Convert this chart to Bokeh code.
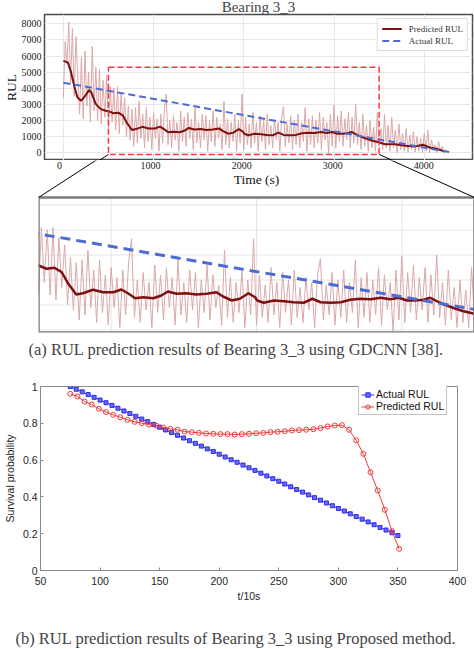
from bokeh.plotting import figure
from bokeh.layouts import column
from bokeh.models import Range1d, FixedTicker, Legend, LegendItem, LinearAxis
from bokeh.embed import file_html
from bokeh.resources import INLINE

# ---------------- panel (a) data ----------------
TIME_TICKS = [0, 1000, 2000, 3000, 4000]
RUL_TICKS = [0, 1000, 2000, 3000, 4000, 5000, 6000, 7000, 8000]

NOISE_T = list(range(0, 4260, 20))
NOISE_RUL = [
    3400, 6900, 5500, 8100, 4300, 7700, 3500, 7200, 4700, 2400,
    5900, 2100, 6300, 2900, 5000, 1900, 6600, 2600, 5300, 2000,
    5200, 1800, 4500, 2200, 4800, 1500, 4100, 1900, 4000, 1400,
    4100, 1200, 3700, 1700, 3400, 1000, 2900, 800, 2700, 400,
    2800, 600, 3200, 900, 2400, 300, 2800, 700, 2200, 200,
    2500, 900, 2100, 100, 2400, 600, 2700, 3650, 500, 2000,
    300, 2300, 800, 1900, 100, 2600, 700, 2200, 400, 2500,
    900, 2100, 200, 2800, 600, 1900, 300, 2400, 800, 2300,
    100, 2000, 700, 2600, 400, 2200, 900, 1800, 200, 3200,
    500, 2100, 300, 1900, 700, 2400, 100, 2000, 600, 3650,
    200, 2200, 500, 1800, 300, 2500, 600, 1900, 100, 2300,
    700, 2000, 200, 2400, 500, 1700, 300, 2100, 800, 1900,
    100, 2200, 2850, 400, 1800, 600, 2300, 200, 2000, 500,
    2400, 300, 1900, 700, 2800, 100, 2100, 500, 2300, 300,
    2000, 600, 2500, 200, 2200, 800, 1900, -50, 2400, 400,
    2950, 300, 2300, 700, 2600, 400, 2100, 800, 2500, 300,
    2200, 600, 3000, 500, 1900, 200, 2400, 400, 1700, 100,
    2000, 300, 1600, 100, 2500, 400, 1500, 200, 2400, 300,
    1700, 100, 2200, 300, 1400, 0, 1800, 200, 1200, 100,
    1500, 0, 1100, 200, 1300, 50, 1000, 100, 900, 0,
    1200, 100, 1400, 0, 800, 200, 500, 0, 700, 100,
    400, 0, 200,
]

SMOOTH_T = [0, 50, 85, 120, 155, 195, 230, 285, 310, 360,
            415, 470, 500, 555, 610, 660, 705, 760, 805, 875,
            945, 1015, 1070, 1115, 1165, 1220, 1290, 1345, 1390, 1450,
            1520, 1585, 1655, 1725, 1770, 1830, 1885, 1945, 1990, 2005,
            2050, 2120, 2190, 2255, 2325, 2385, 2440, 2510, 2580, 2645,
            2715, 2785, 2855, 2920, 2980, 3035, 3095, 3150, 3195, 3255,
            3310, 3370, 3425, 3485, 3565, 3675, 3785, 3895, 3985, 4060,
            4150, 4225]
SMOOTH_RUL = [5700, 5610, 5000, 4160, 3440, 3230, 3440, 3890, 3750, 3020,
              2710, 2610, 2580, 2450, 2490, 2310, 1850, 1420, 1470, 1610,
              1510, 1510, 1620, 1470, 1270, 1310, 1270, 1380, 1540, 1450,
              1470, 1420, 1450, 1510, 1340, 1180, 1250, 1470, 1310, 1180,
              1090, 1180, 1150, 1110, 1090, 1250, 1110, 1090, 1110, 1210,
              1250, 1230, 1290, 1230, 1290, 1180, 1180, 1210, 1290, 1110,
              980, 850, 750, 670, 530, 530, 430, 390, 500, 330,
              230, 80]

ACTUAL_T = [0, 4320]
ACTUAL_RUL = [4350, 0]

ZOOM_T = [500, 3500]
ZOOM_RUL = [-100, 5300]

CAPTION_A = "(a) RUL prediction results of Bearing 3_3 using GDCNN [38]."
CAPTION_B = "(b) RUL prediction results of Bearing 3_3 using Proposed method."

# ---------------- panel (b) data ----------------
B_X_TICKS = [50, 100, 150, 200, 250, 300, 350, 400]
B_Y_TICKS = [0, 0.2, 0.4, 0.6, 0.8, 1.0]
B_Y_LABELS = ["0", "0.2", "0.4", "0.6", "0.8", "1"]

ACT_B_T = list(range(75, 351, 5))
ACT_B_P = [1.000, 0.985, 0.971, 0.956, 0.941, 0.926, 0.912, 0.897, 0.882, 0.867,
           0.853, 0.838, 0.823, 0.809, 0.794, 0.779, 0.764, 0.750, 0.735, 0.720,
           0.705, 0.691, 0.676, 0.661, 0.647, 0.632, 0.617, 0.602, 0.588, 0.573,
           0.558, 0.544, 0.529, 0.514, 0.499, 0.485, 0.470, 0.455, 0.440, 0.426,
           0.411, 0.396, 0.382, 0.367, 0.352, 0.337, 0.323, 0.308, 0.293, 0.279,
           0.264, 0.249, 0.234, 0.220, 0.205, 0.190]

PRED_B_T = list(range(75, 352, 6))
PRED_B_P = [0.960, 0.946, 0.918, 0.902, 0.879, 0.861, 0.846, 0.833, 0.819, 0.808,
            0.801, 0.793, 0.788, 0.777, 0.770, 0.765, 0.755, 0.752, 0.748, 0.745,
            0.743, 0.741, 0.741, 0.739, 0.741, 0.743, 0.746, 0.748, 0.752, 0.754,
            0.757, 0.761, 0.763, 0.765, 0.768, 0.774, 0.783, 0.788, 0.790, 0.765,
            0.707, 0.634, 0.534, 0.435, 0.330, 0.214, 0.118]

SERIF = "Liberation Serif"
SANS = "Liberation Sans"
NOISE_COL = "#dba8a8"
DARK_RED = "#7d1010"
BLUE_D = "#4d6bd2"
BOX_RED = "#ff3343"

# ---------------- layout geometry (pixels) ----------------
W = 474
A_H, A_L, A_R, A_T = 160, 40, 2, 14          # main plot of (a); its frame ends at its bottom
I_H, I_L, I_R, I_B = 174, 38, 0, 2           # inset figure (its top strip holds the time axis)
GAP = 37
XR_A = (-209, 4535)
YR_A = (-478, 8577)

A_FX0, A_FX1, A_FY0, A_FY1 = A_L, W - A_R, A_T, A_H
I_FX0, I_FX1, I_FY0, I_FY1 = I_L, W - I_R, A_H, A_H + I_H - I_B
I_XR = (ZOOM_T[0], ZOOM_T[1])
I_YR = (ZOOM_RUL[0],
        ZOOM_RUL[0] + (ZOOM_RUL[1] - ZOOM_RUL[0]) * (I_FY1 - I_FY0) / (I_FY1 - I_FY0 - GAP))


def main_to_px(t, v):
    gx = A_FX0 + (t - XR_A[0]) / (XR_A[1] - XR_A[0]) * (A_FX1 - A_FX0)
    gy = A_FY0 + (YR_A[1] - v) / (YR_A[1] - YR_A[0]) * (A_FY1 - A_FY0)
    return gx, gy


def px_to_main(gx, gy):
    t = XR_A[0] + (gx - A_FX0) / (A_FX1 - A_FX0) * (XR_A[1] - XR_A[0])
    v = YR_A[1] - (gy - A_FY0) / (A_FY1 - A_FY0) * (YR_A[1] - YR_A[0])
    return t, v


def px_to_inset(gx, gy):
    t = I_XR[0] + (gx - I_FX0) / (I_FX1 - I_FX0) * (I_XR[1] - I_XR[0])
    v = I_YR[1] - (gy - I_FY0) / (I_FY1 - I_FY0) * (I_YR[1] - I_YR[0])
    return t, v


# ================= panel (a) main =================
pa = figure(width=W, height=A_H, x_range=Range1d(*XR_A), y_range=Range1d(*YR_A),
            x_axis_location=None, output_backend="svg", toolbar_location=None,
            frame_align=False,
            min_border_left=A_L, min_border_right=A_R, min_border_top=A_T, min_border_bottom=0)
pa.title.text = "Bearing 3_3"
pa.title.align = "center"
pa.title.vertical_align = "top"
pa.title.text_font = SERIF
pa.title.text_font_size = "15px"
pa.title.text_font_style = "normal"
pa.title.standoff = -5

yax = pa.yaxis[0]
yax.axis_line_color = None
yax.major_tick_line_color = None
yax.minor_tick_line_color = None
yax.major_tick_out = 0
yax.major_tick_in = 0
yax.minor_tick_out = 0
yax.ticker = FixedTicker(ticks=RUL_TICKS)
yax.major_label_text_font = SERIF
yax.major_label_text_font_size = "10px"
yax.major_label_text_color = "#222222"
yax.major_label_standoff = 3
yax.axis_label = "RUL"
yax.axis_label_text_font = SERIF
yax.axis_label_text_font_style = "normal"
yax.axis_label_text_font_size = "13.5px"
yax.axis_label_text_line_height = 1.0
yax.axis_label_text_color = "#111111"
yax.axis_label_standoff = 0
pa.xgrid.ticker = FixedTicker(ticks=TIME_TICKS)
pa.grid.grid_line_color = "#e8e8e8"
pa.outline_line_color = "#4d4d4d"
pa.outline_line_width = 1.5

pa.line(NOISE_T, NOISE_RUL, line_color=NOISE_COL, line_width=1)
r_pred = pa.line(SMOOTH_T, SMOOTH_RUL, line_color=DARK_RED, line_width=2)
r_act = pa.line(ACTUAL_T, ACTUAL_RUL, line_color=BLUE_D, line_width=2, line_dash="7 4")
pa.quad(left=[ZOOM_T[0]], right=[ZOOM_T[1]], bottom=[ZOOM_RUL[0]], top=[ZOOM_RUL[1]],
        fill_alpha=0, line_color=BOX_RED, line_width=1.5, line_dash="6 3")

leg_a = Legend(items=[LegendItem(label="Predicted RUL", renderers=[r_pred]),
                      LegendItem(label="Actual RUL", renderers=[r_act])],
               location="top_right", margin=4, padding=4, spacing=1,
               label_text_font=SERIF, label_text_font_size="9px", label_text_color="#333333",
               glyph_width=20, glyph_height=11, label_height=11, label_standoff=7,
               border_line_color="#bbbbbb", background_fill_alpha=0.95)
pa.add_layout(leg_a)

# connector corners
INSET_CORNERS = [(I_FX0, I_FY0 + GAP), (I_FX1, I_FY0 + GAP)]
BOX_CORNERS = [(ZOOM_T[0], ZOOM_RUL[0]), (ZOOM_T[1], ZOOM_RUL[0])]
INSET_TOP = [(ZOOM_T[0], ZOOM_RUL[1]), (ZOOM_T[1], ZOOM_RUL[1])]
for (bt, bv), (gx, gy) in zip(BOX_CORNERS, INSET_CORNERS):
    et, ev = px_to_main(gx, gy)
    pa.line([bt, et], [bv, ev], line_color="black", line_width=1)

# ================= panel (a) inset (with the time axis on its top strip) =================
pin = figure(width=W, height=I_H, x_range=Range1d(*I_XR), y_range=Range1d(*I_YR),
             x_axis_location=None, y_axis_location=None, title=None,
             output_backend="svg", toolbar_location=None, frame_align=False,
             min_border_left=I_L, min_border_right=I_R, min_border_top=0, min_border_bottom=I_B)
pin.grid.visible = False
pin.outline_line_color = None
main_x0 = px_to_main(I_FX0, 0)[0]
main_x1 = px_to_main(I_FX1, 0)[0]
pin.extra_x_ranges = {"main": Range1d(main_x0, main_x1)}

tax = LinearAxis(x_range_name="main", fixed_location=I_YR[1],
                 ticker=FixedTicker(ticks=TIME_TICKS),
                 axis_line_color=None, major_tick_line_color=None, minor_tick_line_color=None,
                 major_tick_in=0, major_tick_out=0, minor_tick_out=0,
                 major_label_text_font=SERIF, major_label_text_font_size="10px",
                 major_label_text_color="#222222", major_label_standoff=1,
                 axis_label="Time (s)", axis_label_text_font=SERIF,
                 axis_label_text_font_style="normal", axis_label_text_font_size="13.5px",
                 axis_label_text_color="#111111", axis_label_standoff=0)
pin.add_layout(tax, "below")

# inset grid (from the same tick lists, limited to the zoomed window)
vg = [t for t in TIME_TICKS if ZOOM_T[0] < t < ZOOM_T[1]]
hg = [v for v in RUL_TICKS if ZOOM_RUL[0] < v < ZOOM_RUL[1]]
pin.segment(x0=vg, x1=vg, y0=[ZOOM_RUL[0]] * len(vg), y1=[ZOOM_RUL[1]] * len(vg),
            line_color="#e6e6e6", line_width=1)
pin.segment(x0=[ZOOM_T[0]] * len(hg), x1=[ZOOM_T[1]] * len(hg), y0=hg, y1=hg,
            line_color="#e6e6e6", line_width=1)

pin.line(NOISE_T, NOISE_RUL, line_color=NOISE_COL, line_width=1)
pin.line(SMOOTH_T, SMOOTH_RUL, line_color=DARK_RED, line_width=2.5)
pin.line(ACTUAL_T, ACTUAL_RUL, line_color=BLUE_D, line_width=3, line_dash="10 6")
pin.quad(left=[ZOOM_T[0]], right=[ZOOM_T[1]], bottom=[ZOOM_RUL[0]], top=[ZOOM_RUL[1]],
         fill_alpha=0, line_color="#7a7a7a", line_width=2.5)

for (bt, bv), (it, iv) in zip(BOX_CORNERS, INSET_TOP):
    st, sv = px_to_inset(*main_to_px(bt, bv))
    pin.line([st, it], [sv, iv], line_color="black", line_width=1)

# caption (a)
pca = figure(width=W, height=28, title=CAPTION_A, x_axis_location=None, y_axis_location=None,
             output_backend="svg", toolbar_location=None, frame_align=False,
             min_border_left=0, min_border_right=0, min_border_top=24, min_border_bottom=0)
pca.title.align = "left"
pca.title.offset = 28
pca.title.text_font = SERIF
pca.title.text_font_size = "16.5px"
pca.title.text_font_style = "normal"
pca.title.standoff = 0
pca.outline_line_color = None
pca.grid.visible = False

# ================= panel (b) =================
AX_COL = "#8a8a8a"
pb = figure(width=W, height=248, x_range=Range1d(50, 400), y_range=Range1d(0, 1), title=None,
            output_backend="svg", toolbar_location=None, frame_align=False,
            min_border_left=39, min_border_right=17, min_border_top=24, min_border_bottom=40)
pb.grid.visible = False
pb.outline_line_color = AX_COL
pb.xaxis.ticker = FixedTicker(ticks=B_X_TICKS)
pb.yaxis.ticker = FixedTicker(ticks=B_Y_TICKS)
pb.yaxis.major_label_overrides = {t: l for t, l in zip(B_Y_TICKS, B_Y_LABELS)}
for ax in (pb.xaxis[0], pb.yaxis[0]):
    ax.axis_line_color = AX_COL
    ax.major_tick_line_color = AX_COL
    ax.minor_tick_line_color = None
    ax.major_tick_in = 3
    ax.major_tick_out = 0
    ax.minor_tick_out = 0
    ax.major_label_text_font = SANS
    ax.major_label_text_font_size = "10.5px"
    ax.major_label_text_color = "#262626"
    ax.axis_label_text_font = SANS
    ax.axis_label_text_font_style = "normal"
    ax.axis_label_text_line_height = 1.0
    ax.axis_label_text_color = "#262626"
pb.xaxis.axis_label = "t/10s"
pb.xaxis.axis_label_text_font_size = "10.5px"
pb.xaxis.major_label_standoff = 6
pb.xaxis.axis_label_standoff = 2
pb.yaxis.axis_label = "Survival probability"
pb.yaxis.axis_label_text_font_size = "10.5px"
pb.yaxis.major_label_standoff = 3
pb.yaxis.axis_label_standoff = 4

l_act = pb.line(ACT_B_T, ACT_B_P, line_color="#2b2bf0", line_width=1)
s_act = pb.scatter(ACT_B_T, ACT_B_P, marker="square", size=4, line_color="#2b2bf0",
                   fill_color="#6a6af5", line_width=1)
l_pred = pb.line(PRED_B_T, PRED_B_P, line_color="#f03a3a", line_width=1)
s_pred = pb.scatter(PRED_B_T, PRED_B_P, marker="circle", size=5, line_color="#f03a3a",
                    fill_color=None, line_width=1)

leg_b = Legend(items=[LegendItem(label="Actual RUL", renderers=[l_act, s_act]),
                      LegendItem(label="Predicted RUL", renderers=[l_pred, s_pred])],
               location=(318, 155), margin=0, padding=2, spacing=0,
               label_text_font=SANS, label_text_font_size="10.5px", label_text_color="#111111",
               glyph_width=13, glyph_height=11, label_height=11, label_standoff=2,
               border_line_color="#8a8a8a", background_fill_alpha=1)
pb.add_layout(leg_b)

# caption (b)
pcb = figure(width=W, height=39, title=CAPTION_B, x_axis_location=None, y_axis_location=None,
             output_backend="svg", toolbar_location=None, frame_align=False,
             min_border_left=0, min_border_right=0, min_border_top=37, min_border_bottom=0)
pcb.title.align = "left"
pcb.title.offset = 15
pcb.title.text_font = SERIF
pcb.title.text_font_size = "16.5px"
pcb.title.text_font_style = "normal"
pcb.title.standoff = 0
pcb.outline_line_color = None
pcb.grid.visible = False

layout = column(pa, pin, pca, pb, pcb, spacing=0)
open("out.html", "w").write(file_html(layout, INLINE))
